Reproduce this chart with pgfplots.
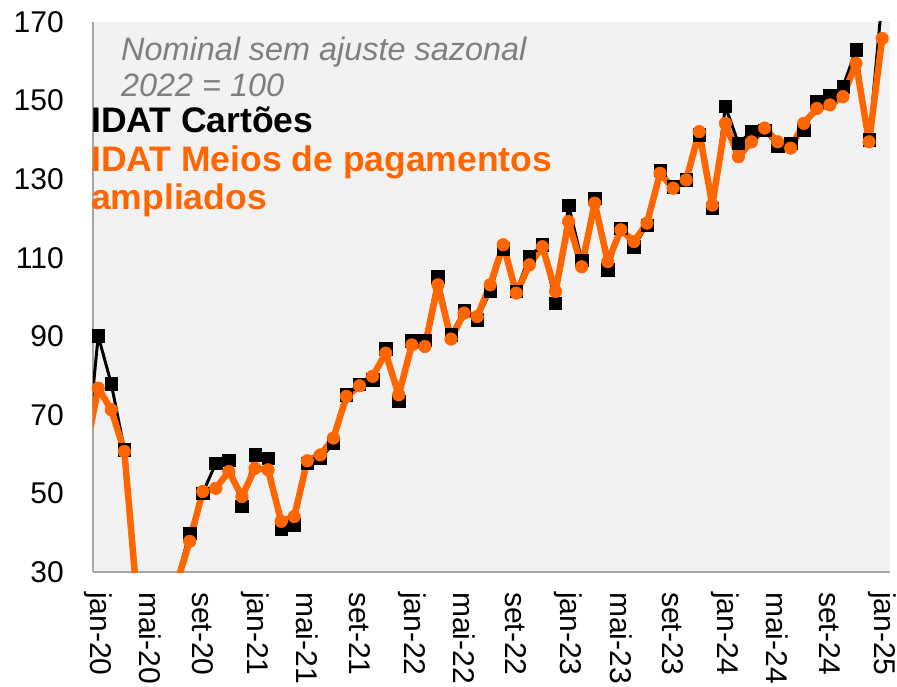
\documentclass[border=0pt]{standalone}
\usepackage{fontspec}
\setmainfont{Liberation Sans}
\usepackage{pgfplots}
\usepackage{pgfplotstable}
\pgfplotsset{compat=1.18}
\definecolor{myorange}{HTML}{FF6600}
\definecolor{bggrey}{HTML}{F2F2F2}
\definecolor{axgrey}{HTML}{A6A6A6}
\definecolor{txtgrey}{HTML}{7F7F7F}

\pgfplotstableread{
i b o
-1 56 60
0 90.1 76.8
1 77.9 71.3
2 61.1 60.7
3 23 22
4 18 18
5 20 20
6 28 27
7 39.9 37.8
8 50.1 50.5
9 57.7 51.3
10 58.5 55.6
11 46.8 49.2
12 59.8 56.4
13 59.0 56.0
14 40.9 42.9
15 42.0 44.1
16 57.7 58.3
17 58.9 59.8
18 62.8 64.1
19 75.1 74.7
20 77.8 77.4
21 78.9 79.8
22 86.8 85.7
23 73.4 75.1
24 88.9 87.8
25 89.0 87.4
26 105.2 103.1
27 90.4 89.3
28 96.7 95.9
29 94.2 95.0
30 101.4 103.1
31 112.3 113.3
32 101.5 101.0
33 110.3 108.2
34 113.3 112.8
35 98.4 101.4
36 123.4 119.2
37 109.4 107.7
38 125.1 123.9
39 106.9 109.0
40 117.5 117.1
41 112.8 114.1
42 118.3 118.8
43 132.3 131.5
44 128.1 127.7
45 129.8 129.8
46 141.3 142.1
47 122.6 123.4
48 148.5 144.2
49 139.1 135.7
50 142.1 139.5
51 142.5 143.0
52 138.3 139.5
53 139.1 137.9
54 142.5 144.2
55 149.7 148.0
56 151.4 148.9
57 153.5 151.0
58 162.9 159.5
59 140.0 139.5
60 176 165.8
}\datatable

\begin{document}
\begin{tikzpicture}
\useasboundingbox (-93bp,-115bp) rectangle (804bp,572bp);
\begin{axis}[
  at={(0,0)}, anchor=south west,
  scale only axis, width=797bp, height=550bp,
  xmin=-0.4, xmax=60.6, ymin=30, ymax=170,
  ytick={30,50,...,170},
  xtick={0,4,...,60},
  xticklabels={jan-20,mai-20,set-20,jan-21,mai-21,set-21,jan-22,mai-22,set-22,jan-23,mai-23,set-23,jan-24,mai-24,set-24,jan-25},
  axis x line*=bottom, axis y line*=left,
  axis line style={axgrey, line width=1.2bp},
  axis background/.style={fill=bggrey},
  major tick length=0pt,
  tick style={draw=none},
  /pgf/number format/assume math mode=true,
  yticklabel style={font=\fontsize{30bp}{36bp}\selectfont, inner sep=0pt, anchor=east, xshift=-29bp},
  xticklabel style={font=\fontsize{30bp}{36bp}\selectfont, inner sep=0pt, yshift=-20bp, rotate=-90, anchor=west},
]
\addplot[black, line width=3bp, line join=round, mark=square*, mark size=6.2bp, mark options={solid, line width=0.5bp, line join=miter}] table[x=i, y=b] {\datatable};
\addplot[myorange, line width=6.5bp, line join=round, mark=*, mark size=6.3bp, mark options={solid, line width=0.5bp}] table[x=i, y=o] {\datatable};
\end{axis}
\node[anchor=base west, inner sep=0pt, font=\fontsize{32.4bp}{38bp}\selectfont\itshape, text=txtgrey] at (28bp,511bp) {Nominal sem ajuste sazonal};
\node[anchor=base west, inner sep=0pt, font=\fontsize{32.4bp}{38bp}\selectfont\itshape, text=txtgrey] at (28bp,475bp) {2022 = 100};
\node[anchor=base west, inner sep=0pt, font=\fontsize{35.5bp}{40bp}\selectfont\bfseries] at (-2bp,439bp) {IDAT Cartões};
\node[anchor=base west, inner sep=0pt, font=\fontsize{35.5bp}{40bp}\selectfont\bfseries, text=myorange] at (-2bp,400bp) {IDAT Meios de pagamentos};
\node[anchor=base west, inner sep=0pt, font=\fontsize{35.5bp}{40bp}\selectfont\bfseries, text=myorange] at (-2bp,362bp) {ampliados};
\end{tikzpicture}
\end{document}
